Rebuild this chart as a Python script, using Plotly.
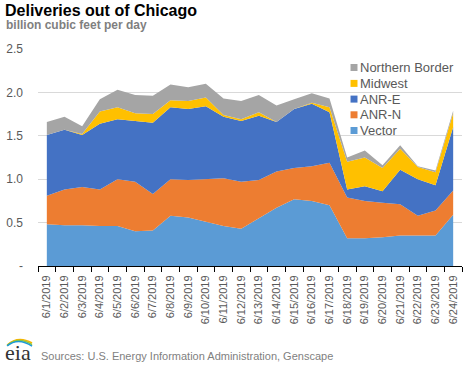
import plotly.graph_objects as go

dates = ["6/1/2019", "6/2/2019", "6/3/2019", "6/4/2019", "6/5/2019", "6/6/2019",
         "6/7/2019", "6/8/2019", "6/9/2019", "6/10/2019", "6/11/2019", "6/12/2019",
         "6/13/2019", "6/14/2019", "6/15/2019", "6/16/2019", "6/17/2019", "6/18/2019",
         "6/19/2019", "6/20/2019", "6/21/2019", "6/22/2019", "6/23/2019", "6/24/2019"]

vector = [0.48, 0.47, 0.47, 0.46, 0.46, 0.40, 0.41, 0.58, 0.56, 0.51, 0.46, 0.43,
          0.55, 0.67, 0.77, 0.75, 0.70, 0.32, 0.32, 0.33, 0.35, 0.35, 0.35, 0.59]
anr_n = [0.33, 0.41, 0.44, 0.42, 0.54, 0.57, 0.42, 0.42, 0.43, 0.49, 0.55, 0.54,
         0.44, 0.42, 0.36, 0.40, 0.49, 0.47, 0.43, 0.40, 0.36, 0.23, 0.29, 0.28]
anr_e = [0.70, 0.69, 0.60, 0.76, 0.69, 0.70, 0.82, 0.83, 0.82, 0.84, 0.71, 0.70,
         0.74, 0.57, 0.68, 0.72, 0.58, 0.09, 0.17, 0.13, 0.40, 0.42, 0.29, 0.73]
midwest = [0.00, 0.00, 0.01, 0.14, 0.14, 0.09, 0.10, 0.08, 0.09, 0.10, 0.02, 0.02,
           0.04, 0.00, 0.00, 0.01, 0.06, 0.32, 0.33, 0.27, 0.24, 0.14, 0.15, 0.16]
northern_border = [0.15, 0.15, 0.09, 0.14, 0.20, 0.21, 0.21, 0.18, 0.16, 0.16, 0.19, 0.21,
                   0.20, 0.19, 0.11, 0.11, 0.10, 0.05, 0.08, 0.03, 0.04, 0.01, 0.02, 0.03]

series_names = ["Vector", "ANR-N", "ANR-E", "Midwest", "Northern Border"]
series_values = [vector, anr_n, anr_e, midwest, northern_border]
series_colors = ["#5B9BD5", "#ED7D31", "#4472C4", "#FFC000", "#A5A5A5"]

y_tickvals = [0, 0.5, 1.0, 1.5, 2.0, 2.5]
y_ticktext = ["-", "0.5", "1.0", "1.5", "2.0", "2.5"]

title = "Deliveries out of Chicago"
subtitle = "billion cubic feet per day"
source = "Sources: U.S. Energy Information Administration, Genscape"

W, H = 468, 366
ML, MR, MT, MB = 36, 6, 49, 100
PW, PH = W - ML - MR, H - MT - MB


def px(x):
    return (x - ML) / PW


def py(y):
    return (H - MB - y) / PH


FONT = "Liberation Sans, Arial, sans-serif"
GRAY = "#595959"

fig = go.Figure()
for name, vals, col in zip(series_names, series_values, series_colors):
    fig.add_trace(go.Scatter(
        x=dates, y=vals, name=name, mode="lines", stackgroup="one",
        line=dict(width=0, color=col), fillcolor=col, showlegend=False,
    ))

shapes = []
annotations = []

# manual legend (top item = last series)
leg_y = [130.5, 114.8, 99.1, 83.4, 67.5]
for name, col, yc in zip(series_names, series_colors, leg_y):
    shapes.append(dict(type="rect", xref="paper", yref="paper",
                       x0=px(350), x1=px(357), y0=py(yc + 3.5), y1=py(yc - 3.5),
                       fillcolor=col, line=dict(width=0)))
    annotations.append(dict(text=name, xref="paper", yref="paper", x=px(358), y=py(yc),
                            xanchor="left", yanchor="middle", showarrow=False,
                            font=dict(family=FONT, size=13, color=GRAY)))

# title & subtitle
annotations.append(dict(text="<b>" + title + "</b>", xref="paper", yref="paper",
                        x=px(1), y=py(10), xanchor="left", yanchor="middle",
                        showarrow=False, font=dict(family=FONT, size=16, color="#000000")))
annotations.append(dict(text="<b>" + subtitle + "</b>", xref="paper", yref="paper",
                        x=px(2), y=py(25.5), xanchor="left", yanchor="middle",
                        showarrow=False, font=dict(family=FONT, size=12, color="#7F7F7F")))
# source
annotations.append(dict(text=source, xref="paper", yref="paper",
                        x=px(37), y=py(355.5), xanchor="left", yanchor="middle",
                        showarrow=False, font=dict(family=FONT, size=11, color="#7F7F7F")))
# eia logo text
annotations.append(dict(text="eia", xref="paper", yref="paper",
                        x=px(1), y=py(352), xanchor="left", yanchor="middle",
                        showarrow=False,
                        font=dict(family="Liberation Serif, DejaVu Serif, serif", size=22,
                                  color="#333333")))
# logo swoosh
for (c, off) in [("#F7B500", 0), ("#8CC63F", 1.6), ("#1E9AD6", 3.2)]:
    x0, y0 = 5, 345 + off * 0.3
    x1, y1 = 30, 343 + off
    cx, cy = 16, 335 + off * 0.6
    shapes.append(dict(type="path", xref="paper", yref="paper",
                       path=f"M {px(x0)},{py(y0)} Q {px(cx)},{py(cy)} {px(x1)},{py(y1)}",
                       line=dict(color=c, width=1.6)))

fig.update_layout(
    width=W, height=H,
    margin=dict(l=ML, r=MR, t=MT, b=MB),
    paper_bgcolor="white", plot_bgcolor="white",
    font=dict(family=FONT, color=GRAY),
    xaxis=dict(type="category", range=[-0.5, len(dates) - 0.5], tickson="boundaries",
               ticks="outside", ticklen=5, tickcolor="#000000", tickwidth=1,
               showline=True, linecolor="#000000", linewidth=1, showgrid=False,
               tickangle=-90, ticklabelstandoff=4,
               tickfont=dict(family=FONT, size=11, color=GRAY),
               fixedrange=True),
    yaxis=dict(range=[0, 2.5], tickvals=y_tickvals, ticktext=y_ticktext,
               showgrid=True, gridcolor="#D9D9D9", gridwidth=1, zeroline=False,
               showline=False, ticks="", ticklabelstandoff=14,
               tickfont=dict(family=FONT, size=12, color=GRAY), fixedrange=True),
    shapes=shapes, annotations=annotations, showlegend=False,
)

fig.write_html("out.html", config={"displayModeBar": False},
               post_script="document.body.style.margin='0';document.body.style.overflow='hidden';")
